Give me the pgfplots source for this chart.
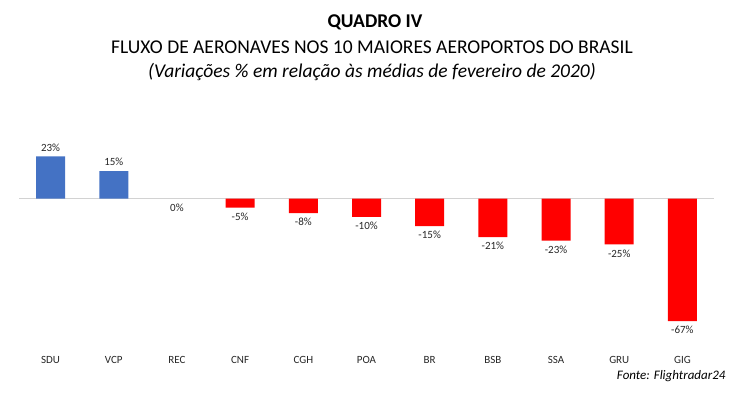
\documentclass[border=0pt]{standalone}
\usepackage{fontspec}
\setmainfont{Carlito}
\usepackage{pgfplots}
\pgfplotsset{compat=1.18}
\definecolor{barblue}{HTML}{4472C4}
\definecolor{barred}{HTML}{FF0000}
\definecolor{lbl}{HTML}{262626}
\begin{document}
\begin{tikzpicture}
\path[use as bounding box] (0,0) rectangle (750bp,397bp);
\node[font=\fontsize{19.5bp}{22bp}\selectfont\bfseries] at (375bp,375bp) {QUADRO IV};
\node[font=\fontsize{19.5bp}{22bp}\selectfont] at (372bp,350bp) {FLUXO DE AERONAVES NOS 10 MAIORES AEROPORTOS DO BRASIL};
\node[font=\fontsize{19.5bp}{22bp}\selectfont\itshape] at (372bp,325bp) {(Variações \% em relação às médias de fevereiro de 2020)};
\node[font=\fontsize{13bp}{15bp}\selectfont\itshape, anchor=east] at (729bp,21bp) {Fonte: Flightradar24};
\begin{axis}[
  at={(19bp,52bp)}, anchor=south west,
  scale only axis, width=695bp, height=205bp,
  xmin=-0.5, xmax=10.5, ymin=-80, ymax=32,
  axis line style={draw=none},
  major tick length=0pt,
  ytick=\empty,
  xtick={0,...,10},
  xticklabels={SDU,VCP,REC,CNF,CGH,POA,BR,BSB,SSA,GRU,GIG},
  xticklabel style={font=\fontsize{11bp}{13bp}\selectfont, text=lbl, yshift=-8bp},
  ybar, bar width=29bp, bar shift=0pt,
  /pgf/number format/assume math mode=true,
  nodes near coords={\pgfmathprintnumber{\pgfplotspointmeta}\%},
  every node near coord/.append style={font=\fontsize{11bp}{13bp}\selectfont, text=lbl, inner sep=5bp},
  clip=false,
]
\draw[gray!35, line width=0.8pt] (axis cs:-0.5,0) -- (axis cs:10.5,0);
\addplot[fill=barblue, draw=none, nodes near coords align={above}] coordinates {(0,23) (1,15)};
\addplot[fill=none, draw=none, nodes near coords align={below}] coordinates {(2,0)};
\addplot[fill=barred, draw=none, nodes near coords align={below}] coordinates {(3,-5) (4,-8) (5,-10) (6,-15) (7,-21) (8,-23) (9,-25) (10,-67)};
\end{axis}
\end{tikzpicture}
\end{document}
